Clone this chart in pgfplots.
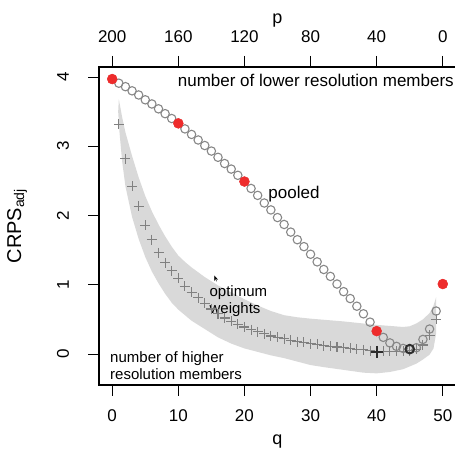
\documentclass[border=0pt]{standalone}
\usepackage{fontspec}
\setmainfont{Liberation Sans}
\usepackage{pgfplots}
\usepackage{pgfplotstable}
\pgfplotsset{compat=1.18}
\usetikzlibrary{arrows.meta}

\definecolor{bandgray}{RGB}{217,217,217}
\definecolor{circgray}{RGB}{135,135,135}
\definecolor{crossgray}{RGB}{128,128,128}
\definecolor{rred}{RGB}{238,44,44}
\definecolor{dark}{RGB}{45,45,45}

% pooled CRPS, q = number of higher resolution members
\pgfplotstableread{
q crps
0 3.97
1 3.91
2 3.86
3 3.80
4 3.74
5 3.67
6 3.61
7 3.54
8 3.47
9 3.40
10 3.33
11 3.25
12 3.17
13 3.09
14 3.01
15 2.93
16 2.84
17 2.75
18 2.67
19 2.58
20 2.49
21 2.39
22 2.29
23 2.18
24 2.08
25 1.97
26 1.87
27 1.76
28 1.65
29 1.55
30 1.44
31 1.33
32 1.22
33 1.12
34 1.01
35 0.90
36 0.80
37 0.69
38 0.58
39 0.46
40 0.33
41 0.24
42 0.16
43 0.11
44 0.08
45 0.07
46 0.09
47 0.21
48 0.36
49 0.62
50 1.01
}\pooled

% optimum weights
\pgfplotstableread{
q crps
1 3.32
2 2.82
3 2.42
4 2.13
5 1.86
6 1.65
7 1.46
8 1.32
9 1.20
10 1.09
11 0.98
12 0.89
13 0.81
14 0.73
15 0.65
16 0.58
17 0.52
18 0.47
19 0.43
20 0.39
21 0.35
22 0.32
23 0.29
24 0.26
25 0.24
26 0.22
27 0.20
28 0.18
29 0.17
30 0.15
31 0.14
32 0.12
33 0.11
34 0.10
35 0.09
36 0.08
37 0.07
38 0.06
39 0.05
40 0.04
41 0.04
42 0.04
43 0.04
44 0.04
45 0.05
46 0.07
47 0.13
48 0.27
49 0.50
}\optw

\begin{document}
\begin{tikzpicture}
\begin{axis}[
  name=main,
  at={(99pt,64pt)}, anchor=south west,
  width=357pt, height=318pt, scale only axis,
  xmin=-2, xmax=52, ymin=-0.448, ymax=4.144,
  xtick={0,10,...,50}, ytick={0,1,2,3,4},
  xtick pos=left, ytick pos=left,
  tick align=outside, major tick length=11pt,
  tick style={black, line width=0.8pt},
  axis line style={black, line width=1pt},
  /pgf/number format/assume math mode=true,
  ticklabel style={font=\fontsize{17}{20}\selectfont},
  xticklabel style={anchor=base, yshift=-25.5pt},
  yticklabel style={xshift=-19pt, rotate=90, anchor=base},
]
\addplot[fill=bandgray, draw=none] coordinates {
 (1,3.68) (1.5,3.42) (2,3.20) (3,2.86) (4,2.55) (5,2.28) (6,2.06) (7,1.87)
 (8,1.70) (9,1.55) (10,1.42) (11,1.33) (12,1.25) (14,1.11) (16,0.99) (18,0.89)
 (20,0.79) (22,0.70) (24,0.62) (26,0.56) (28,0.53) (30,0.51) (35,0.47) (40,0.42)
 (44,0.39) (45,0.40) (46,0.44) (47,0.50) (48,0.59) (48.6,0.70) (49,0.82)
 (49,0.30) (48.6,0.08) (48,-0.01) (47,-0.08) (46,-0.14) (45,-0.18) (44,-0.22)
 (42,-0.26) (40,-0.28) (38,-0.27) (35,-0.23) (32,-0.19) (30,-0.16) (28,-0.11)
 (26,-0.06) (24,-0.02) (22,0.03) (20,0.08) (18,0.15) (16,0.24) (14,0.36)
 (12,0.48) (11,0.56) (10,0.64) (9,0.74) (8,0.87) (7,1.02) (6,1.19) (5,1.40)
 (4,1.66) (3,1.98) (2,2.42) (1.5,2.78) (1.1,3.20) (0.9,3.50)
} -- cycle;
\addplot[only marks, mark=+, mark size=5pt, color=crossgray, mark options={line width=1.1pt}] table[x=q, y=crps] {\optw};
\addplot[only marks, mark=o, mark size=4.2pt, color=circgray, mark options={line width=1.1pt}] table[x=q, y=crps] {\pooled};
\addplot[only marks, mark=*, mark size=5pt, color=rred, mark options={draw=rred, fill=rred}] coordinates {(0,3.97) (10,3.33) (20,2.49) (40,0.33) (50,1.01)};
\addplot[only marks, mark=+, mark size=6pt, color=dark, mark options={line width=2.2pt}] coordinates {(40,0.03)};
\addplot[only marks, mark=o, mark size=4.3pt, color=dark, mark options={line width=2pt}] coordinates {(45,0.07)};

\node[anchor=base west, inner sep=0pt, font=\fontsize{17}{20}\selectfont] at (axis cs:9.9,3.86) {number of lower resolution members};
\node[anchor=base west, inner sep=0pt, font=\fontsize{17}{20}\selectfont] at (axis cs:23.6,2.24) {pooled};
\node[anchor=base west, inner sep=0pt, font=\fontsize{15}{18}\selectfont] at (axis cs:14.7,0.83) {optimum};
\node[anchor=base west, inner sep=0pt, font=\fontsize{15}{18}\selectfont] at (axis cs:14.7,0.59) {weights};
\node[anchor=base west, inner sep=0pt, font=\fontsize{15}{18}\selectfont] at (axis cs:-0.33,-0.126) {number of higher};
\node[anchor=base west, inner sep=0pt, font=\fontsize{15}{18}\selectfont] at (axis cs:-0.33,-0.365) {resolution members};
\draw[-{Stealth[length=5pt,width=4pt]}, line width=0.5pt] (axis cs:15.78,1.05) -- (axis cs:15.47,1.13);
\end{axis}

\begin{axis}[
  at={(99pt,64pt)}, anchor=south west,
  width=357pt, height=318pt, scale only axis,
  xmin=-8, xmax=208, x dir=reverse, ymin=0, ymax=1,
  xtick={0,40,...,200}, ytick=\empty,
  xtick pos=right, xticklabel pos=right,
  axis line style={black, line width=1pt},
  tick align=outside, major tick length=11pt,
  tick style={black, line width=0.8pt},
  /pgf/number format/assume math mode=true,
  ticklabel style={font=\fontsize{17}{20}\selectfont},
  xticklabel style={anchor=base, yshift=13pt},
]
\end{axis}
% axis titles
\node[anchor=base, inner sep=0pt, font=\fontsize{18}{21}\selectfont] at (277.5pt,4pt) {q};
\node[anchor=base, inner sep=0pt, font=\fontsize{18}{21}\selectfont] at (277.5pt,425pt) {p};
\node[anchor=base, inner sep=0pt, rotate=90, font=\fontsize{20}{24}\selectfont] at (21pt,223pt) {CRPS\textsubscript{adj}};
% plot frame as thin filled bars
\fill[black] (98.4pt,63.4pt) rectangle (456pt,64.6pt);
\fill[black] (98.4pt,381.4pt) rectangle (456pt,382.6pt);
\fill[black] (98.4pt,63.4pt) rectangle (99.6pt,382.6pt);
\pgfresetboundingbox
\path[use as bounding box] (0,0) rectangle (455pt,449pt);
\end{tikzpicture}
\end{document}
